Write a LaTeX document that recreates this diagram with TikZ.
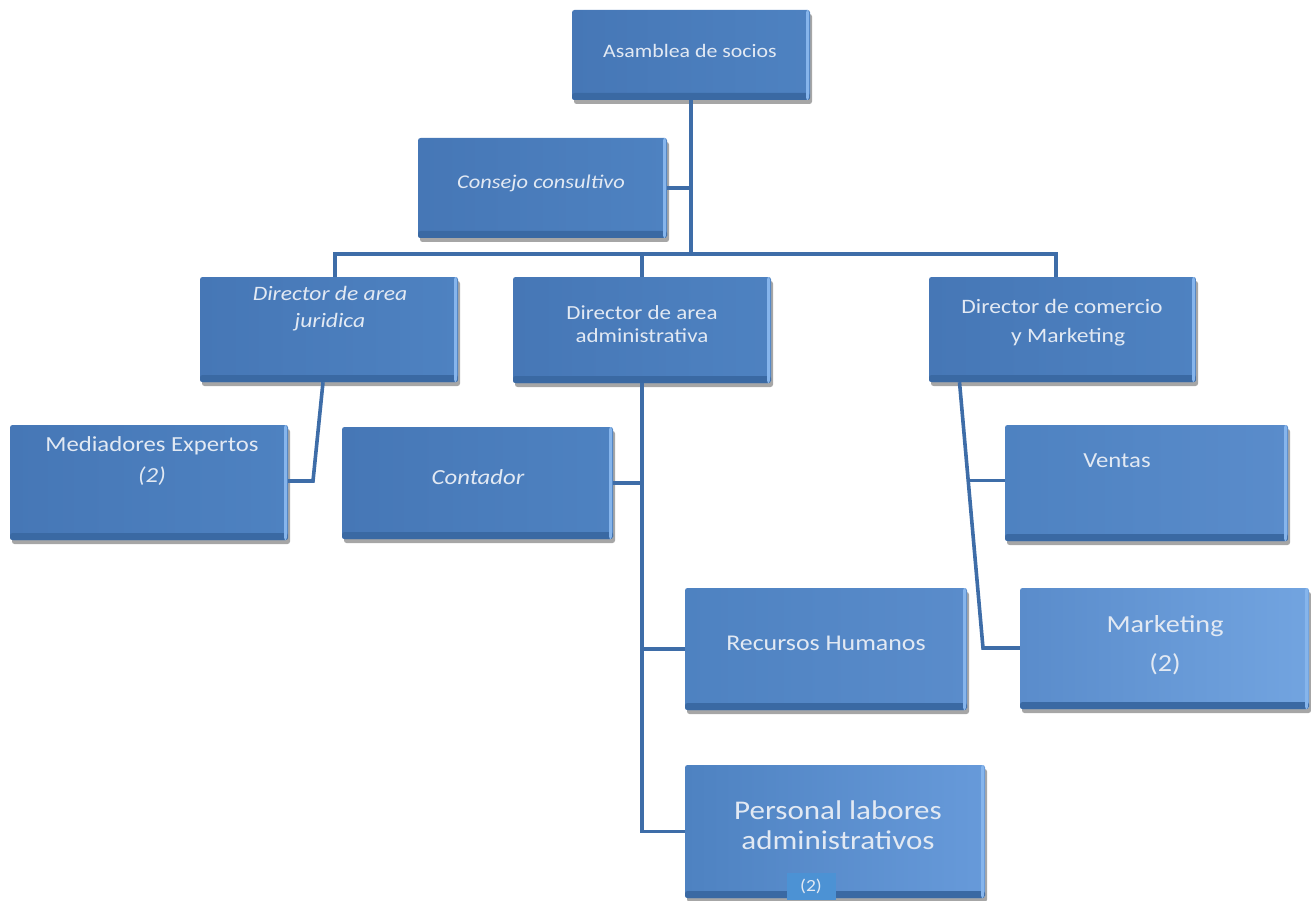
\documentclass[tikz,border=0pt]{standalone}
\usepackage{fontspec}
\setmainfont{Carlito}[FakeStretch=1.15]
\usetikzlibrary{shadows,fit,calc}
\definecolor{linec}{HTML}{3E6DA8}
\definecolor{txtc}{HTML}{E2E9F3}
\definecolor{bevdark}{HTML}{3A69A3}
\definecolor{bevlight}{HTML}{86B5EC}
\definecolor{smallc}{HTML}{4C92D4}
\definecolor{bA}{HTML}{4677B6}
\definecolor{bB}{HTML}{4E82C1}
\definecolor{bC}{HTML}{5A8CCB}
\definecolor{bD}{HTML}{679ADA}
\definecolor{bE}{HTML}{72A4E0}
\tikzset{
  box/.style={inner sep=0pt, rounded corners=2.5pt, draw=none,
    drop shadow={shadow xshift=2pt, shadow yshift=-4pt, fill=black, opacity=0.35},
    path picture={
      \fill[bevdark] ([yshift=7pt]path picture bounding box.south west) rectangle (path picture bounding box.south east);
      \fill[bevlight] ([xshift=-4pt]path picture bounding box.north east) rectangle ([xshift=-1pt]path picture bounding box.south east);
    }},
  conn/.style={draw=linec, line width=3.6pt},
  txt/.style={text=txtc, align=center, inner sep=0pt},
}
\begin{document}
\begin{tikzpicture}[x=1pt,y=-1pt]
\useasboundingbox (0,0) rectangle (1311,901);
% boxes
\node[box, left color=bA, right color=bB, fit={(572,10) (810,100)}] (asamblea) {};
\node[box, left color=bA, right color=bB, fit={(418,138) (667,238)}] (consejo) {};
\node[box, left color=bA, right color=bB, fit={(200,277) (458,382)}] (juridica) {};
\node[box, left color=bA, right color=bB, fit={(513,277) (771,383)}] (admin) {};
\node[box, left color=bA, right color=bB, fit={(929,277) (1196,382)}] (comercio) {};
\node[box, left color=bA, right color=bB, fit={(10,425) (288,540)}] (mediadores) {};
\node[box, left color=bA, right color=bB, fit={(342,427) (613,539)}] (contador) {};
\node[box, left color=bB, right color=bC, fit={(1005,425) (1288,541)}] (ventas) {};
\node[box, left color=bB, right color=bC, fit={(685,588) (967,710)}] (rrhh) {};
\node[box, left color=bC, right color=bE, fit={(1020,588) (1309,709)}] (marketing) {};
\node[box, left color=bB, right color=bD, fit={(685,765) (985,898)}] (personal) {};
% connectors
\coordinate (busL) at (335,254);
\coordinate (busR) at (1056,254);
\draw[conn] (asamblea.south) -- (asamblea.south |- busL);
\draw[conn] (consejo.east) -- (consejo.east -| asamblea.south);
\draw[conn] (busL |- juridica.north) -- (busL) -- (busR) -- (busR |- comercio.north);
\draw[conn] (admin.north |- busL) -- (admin.north);
\coordinate (jtop) at ([xshift=-6pt]juridica.south);
\coordinate (jbend) at (313,481);
\draw[conn] (jtop) -- (jbend) -- (jbend -| mediadores.east);
\draw[conn] (admin.south) -- (admin.south |- personal.west) -- (personal.west);
\draw[conn] (contador.east) -- (contador.east -| admin.south);
\draw[conn] (rrhh.west -| admin.south) -- (rrhh.west);
\coordinate (ctop) at ([xshift=-103pt]comercio.south);
\coordinate (cbot) at (983,648);
\coordinate (cmid) at ($(ctop)!0.37!(cbot)$);
\draw[conn] (ctop) -- (cbot) -- (cbot -| marketing.west);
\draw[conn] (cmid) -- (cmid -| ventas.west);
% texts
\node[txt, font=\fontsize{19}{23}\selectfont] (tasamblea) at (690,51) {Asamblea de socios};
\node[txt, font=\fontsize{19.5}{23}\selectfont\itshape] (tconsejo) at (541,183) {Consejo consultivo};
\node[txt, font=\fontsize{20.5}{27}\selectfont\itshape] (tjuridica) at (330,309) {Director de area\\juridica};
\node[txt, font=\fontsize{20}{23}\selectfont] (tadmin) at (642,324) {Director de area\\administrativa};
\node[txt, font=\fontsize{20.5}{29}\selectfont] (tcomercio) at (1062,323) {Director de comercio\\\hspace*{0.6em}y Marketing};
\node[txt, font=\fontsize{21.5}{31}\selectfont] (tmediadores) at (152,461) {Mediadores Expertos\\\textit{(2)}};
\node[txt, font=\fontsize{21.5}{26}\selectfont\itshape] (tcontador) at (478,477) {Contador};
\node[txt, font=\fontsize{21.5}{26}\selectfont] (tventas) at (1117,461) {Ventas};
\node[txt, font=\fontsize{22.5}{27}\selectfont] (trrhh) at (826,643) {Recursos Humanos};
\node[txt, font=\fontsize{24.5}{39}\selectfont] (tmarketing) at (1165,645) {Marketing\\(2)};
\node[txt, font=\fontsize{27}{30}\selectfont] (tpersonal) at (838,825) {Personal labores\\administrativos};
\node[txt, fill=smallc, minimum width=49pt, minimum height=27pt, font=\fontsize{17}{19}\selectfont] (tdos) at (811,886) {(2)};
\end{tikzpicture}
\end{document}
